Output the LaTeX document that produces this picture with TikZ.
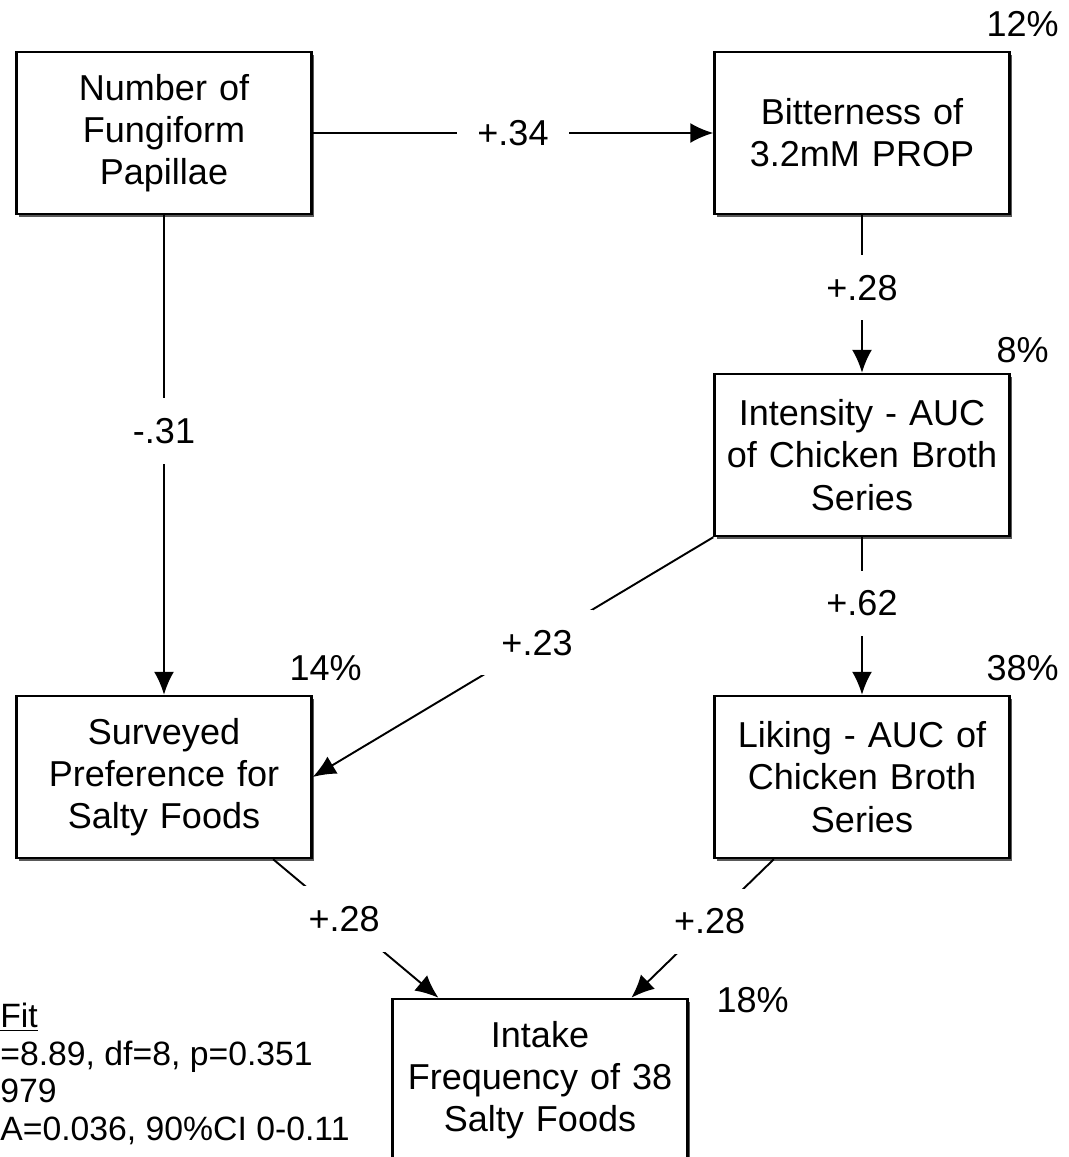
\documentclass[tikz,border=0pt]{standalone}
\usepackage{fontspec}
\setmainfont{Liberation Sans}
\usepackage{tikz}
\usetikzlibrary{positioning,arrows,arrows.meta,shapes,shadows,calc}
\tikzstyle{box} = [rectangle, minimum width=5.9cm, minimum height=3.24cm, text width=5.5cm, align=center, draw=black, line width=1.4pt, fill=white, font=\fontsize{20.5}{24}\selectfont, drop shadow={shadow xshift=1.6pt, shadow yshift=-1.6pt, fill=black!65, opacity=1}]
\tikzstyle{arrow} = [line width=1.1pt,-{Latex[length=0.46cm,width=0.4cm]}]
\tikzstyle{coef} = [fill=white, inner sep=0.4cm, font=\fontsize{20.5}{24}\selectfont]
\tikzstyle{pct} = [inner sep=0pt, font=\fontsize{20.5}{24}\selectfont]

\begin{document}
\begin{tikzpicture}[node distance=6.44cm]
      \useasboundingbox (-3.28,2.66) rectangle (18.1,-20.48);
      \node (fung) [box] {Number of\\Fungiform\\Papillae};
      \node (bit) [box, right of=fung, xshift=7.52cm] {Bitterness of\\3.2mM PROP};
      \node (int) [box, below of=bit] {Intensity - AUC\\of Chicken Broth\\Series};
      \node (lik) [box, below of=int] {Liking - AUC of\\Chicken Broth\\Series};
      \node (surv) [box, below of=fung, yshift=-6.44cm] {Surveyed\\Preference for\\Salty Foods};
      \node (intake) [box, below of=surv, xshift=7.52cm, yshift=0.38cm] {Intake\\Frequency of 38\\Salty Foods};

      % explained variance
      \node (pbit) [pct] at ($(bit.north east)+(0.24,0.54)$) {12\%};
      \node (pint) [pct] at ($(int.north east)+(0.24,0.46)$) {8\%};
      \node (plik) [pct] at ($(lik.north east)+(0.24,0.54)$) {38\%};
      \node (psurv) [pct] at ($(surv.north east)+(0.26,0.54)$) {14\%};
      \node (pintake) [pct] at ($(intake.north east)+(1.28,-0.04)$) {18\%};

      \draw [arrow] (fung) -- node[coef] {+.34} (bit);
      \draw [arrow] (bit) -- node[coef, pos=0.46] {+.28} (int);
      \draw [arrow] (fung) -- node[coef, pos=0.45] {-.31} (surv);
      \draw [arrow] (int.south west) -- node[coef, pos=0.44] {+.23} (surv.east);
      \draw [arrow] (int) -- node[coef, pos=0.42] {+.62} (lik);
      \draw [arrow] (surv.-37) -- node[coef, pos=0.43] {+.28} (intake.141);
      \draw [arrow] (lik.223) -- node[coef, pos=0.45] {+.28} (intake.42);

      % fit indices
      \node (fit) [anchor=north west, inner sep=0pt, align=left, font=\fontsize{19.2}{21.5}\selectfont] at (-3.28,-17.39) {\underline{Fit}\\=8.89, df=8, p=0.351\\979\\A=0.036, 90\%CI 0-0.11};
\end{tikzpicture}
\end{document}
